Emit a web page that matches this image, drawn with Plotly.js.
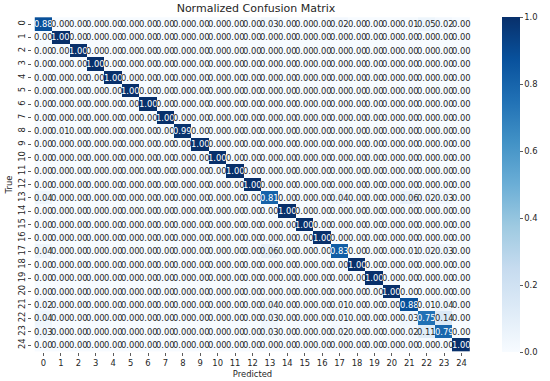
<!DOCTYPE html>
<html>
<head>
<meta charset="utf-8">
<script src="https://cdn.plot.ly/plotly-3.0.1.min.js"></script>
<style>
html,body{margin:0;padding:0;background:#fff;}
#chart{width:550px;height:381px;}
</style>
</head>
<body>
<div id="chart"></div>
<script>
var labels = ['0','1','2','3','4','5','6','7','8','9','10','11','12','13','14','15','16','17','18','19','20','21','22','23','24'];

var row0  = [0.88,0,0,0,0,0,0,0,0,0,0,0,0,0.03,0,0,0,0.02,0,0,0,0.01,0.05,0.02,0];
var row1  = [0,1,0,0,0,0,0,0,0,0,0,0,0,0,0,0,0,0,0,0,0,0,0,0,0];
var row2  = [0,0,1,0,0,0,0,0,0,0,0,0,0,0,0,0,0,0,0,0,0,0,0,0,0];
var row3  = [0,0,0,1,0,0,0,0,0,0,0,0,0,0,0,0,0,0,0,0,0,0,0,0,0];
var row4  = [0,0,0,0,1,0,0,0,0,0,0,0,0,0,0,0,0,0,0,0,0,0,0,0,0];
var row5  = [0,0,0,0,0,1,0,0,0,0,0,0,0,0,0,0,0,0,0,0,0,0,0,0,0];
var row6  = [0,0,0,0,0,0,1,0,0,0,0,0,0,0,0,0,0,0,0,0,0,0,0,0,0];
var row7  = [0,0,0,0,0,0,0,1,0,0,0,0,0,0,0,0,0,0,0,0,0,0,0,0,0];
var row8  = [0,0.01,0,0,0,0,0,0,0.99,0,0,0,0,0,0,0,0,0,0,0,0,0,0,0,0];
var row9  = [0,0,0,0,0,0,0,0,0,1,0,0,0,0,0,0,0,0,0,0,0,0,0,0,0];
var row10 = [0,0,0,0,0,0,0,0,0,0,1,0,0,0,0,0,0,0,0,0,0,0,0,0,0];
var row11 = [0,0,0,0,0,0,0,0,0,0,0,1,0,0,0,0,0,0,0,0,0,0,0,0,0];
var row12 = [0,0,0,0,0,0,0,0,0,0,0,0,1,0,0,0,0,0,0,0,0,0,0,0,0];
var row13 = [0.04,0,0,0,0,0,0,0,0,0,0,0,0,0.81,0,0,0,0.04,0,0,0,0.06,0.02,0.03,0];
var row14 = [0,0,0,0,0,0,0,0,0,0,0,0,0,0,1,0,0,0,0,0,0,0,0,0,0];
var row15 = [0,0,0,0,0,0,0,0,0,0,0,0,0,0,0,1,0,0,0,0,0,0,0,0,0];
var row16 = [0,0,0,0,0,0,0,0,0,0,0,0,0,0,0,0,1,0,0,0,0,0,0,0,0];
var row17 = [0.04,0,0,0,0,0,0,0,0,0,0,0,0,0.06,0,0,0,0.83,0,0,0,0.01,0.02,0.03,0];
var row18 = [0,0,0,0,0,0,0,0,0,0,0,0,0,0,0,0,0,0,1,0,0,0,0,0,0];
var row19 = [0,0,0,0,0,0,0,0,0,0,0,0,0,0,0,0,0,0,0,1,0,0,0,0,0];
var row20 = [0,0,0,0,0,0,0,0,0,0,0,0,0,0,0,0,0,0,0,0,1,0,0,0,0];
var row21 = [0.02,0,0,0,0,0,0,0,0,0,0,0,0,0.04,0,0,0,0.01,0,0,0,0.88,0.01,0.04,0];
var row22 = [0.04,0,0,0,0,0,0,0,0,0,0,0,0,0.03,0,0,0,0.01,0,0,0,0.03,0.75,0.14,0];
var row23 = [0.03,0,0,0,0,0,0,0,0,0,0,0,0,0.03,0,0,0,0.02,0,0,0,0.02,0.11,0.79,0];
var row24 = [0,0,0,0,0,0,0,0,0,0,0,0,0,0,0,0,0,0,0,0,0,0,0,0,1];

var z = [row0,row1,row2,row3,row4,row5,row6,row7,row8,row9,row10,row11,row12,
         row13,row14,row15,row16,row17,row18,row19,row20,row21,row22,row23,row24];

var blues = [
  [0.0,'#f7fbff'],[0.125,'#deebf7'],[0.25,'#c6dbef'],[0.375,'#9ecae1'],
  [0.5,'#6baed6'],[0.625,'#4292c6'],[0.75,'#2171b5'],[0.875,'#08519c'],[1.0,'#08306b']
];

var font = 'DejaVu Sans, Liberation Sans, sans-serif';

var trace = {
  type: 'heatmap',
  x: labels,
  y: labels,
  z: z,
  zmin: 0,
  zmax: 1,
  colorscale: blues,
  xgap: 0, ygap: 0,
  hoverinfo: 'none',
  colorbar: {
    x: 1.0647, xanchor: 'left',
    y: 0, yanchor: 'bottom', len: 1, lenmode: 'fraction',
    thickness: 18, thicknessmode: 'pixels',
    outlinewidth: 0,
    tickmode: 'array',
    tickvals: [0,0.2,0.4,0.6,0.8,1.0],
    ticktext: ['0.0','0.2','0.4','0.6','0.8','1.0'],
    ticks: 'outside', ticklen: 3, tickwidth: 0.8, tickcolor: '#333',
    tickfont: {family: font, size: 8.4, color: '#262626'},
    xpad: 0, ypad: 0
  }
};

var annotations = [];
for (var i = 0; i < labels.length; i++) {
  for (var j = 0; j < labels.length; j++) {
    var v = z[i][j];
    annotations.push({
      x: labels[j], y: labels[i], xref: 'x', yref: 'y',
      text: v.toFixed(2), showarrow: false,
      font: {family: font, size: 8.4, color: v > 0.5 ? '#ffffff' : '#262626'},
      xanchor: 'center', yanchor: 'middle'
    });
  }
}

var layout = {
  width: 550, height: 381,
  margin: {l: 32, r: 70, t: 17, b: 29},
  paper_bgcolor: '#ffffff',
  plot_bgcolor: '#ffffff',
  title: {
    text: 'Normalized Confusion Matrix',
    font: {family: font, size: 11, color: '#262626'},
    x: 0.4655, xanchor: 'center', y: 0.978, yanchor: 'middle'
  },
  xaxis: {
    type: 'category',
    title: {text: 'Predicted', font: {family: font, size: 8.4, color: '#262626'}, standoff: 4},
    ticks: 'outside', ticklen: 3, tickwidth: 0.8, tickcolor: '#333',
    tickfont: {family: font, size: 8.4, color: '#262626'},
    showgrid: false, zeroline: false, showline: false,
    tickangle: 0
  },
  yaxis: {
    type: 'category',
    autorange: 'reversed',
    title: {text: 'True', font: {family: font, size: 8.4, color: '#262626'}, standoff: 2},
    ticks: 'outside', ticklen: 3, tickwidth: 0.8, tickcolor: '#333',
    tickfont: {family: font, size: 8.4, color: '#262626'},
    showgrid: false, zeroline: false, showline: false,
    tickangle: -90
  },
  annotations: annotations
};

Plotly.newPlot('chart', [trace], layout, {staticPlot: true, displayModeBar: false});
</script>
</body>
</html>
